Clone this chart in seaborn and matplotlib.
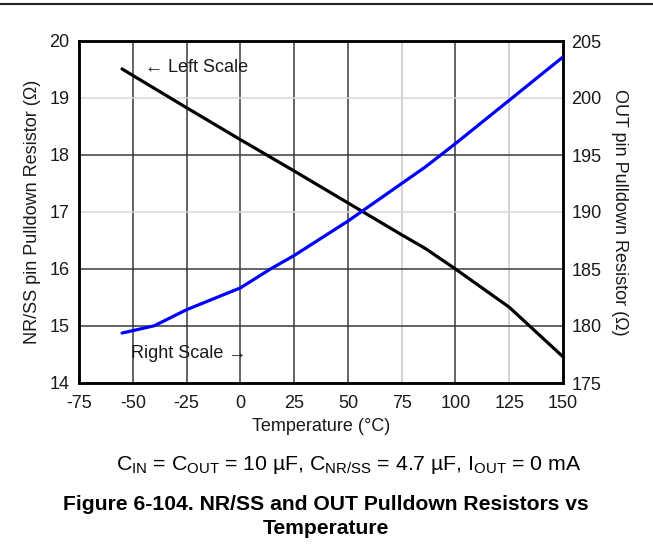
import matplotlib
matplotlib.use("Agg")
import matplotlib.pyplot as plt
from matplotlib.lines import Line2D
import seaborn as sns
import pandas as pd

# Pulldown resistance vs junction temperature
temp_nrss = [-55, -40, -25, 0, 25, 50, 75, 86, 100, 125, 150]
r_nrss = [19.51, 19.17, 18.83, 18.27, 17.72, 17.16, 16.60, 16.36, 16.00, 15.33, 14.46]

temp_out = [-55, -40, -25, 0, 14, 25, 50, 75, 86, 100, 125, 150]
r_out = [179.38, 180.02, 181.43, 183.34, 185.0, 186.18, 189.2, 192.5, 193.95, 196.0, 199.8, 203.6]

x_ticks = [-75, -50, -25, 0, 25, 50, 75, 100, 125, 150]
left_ticks = [14, 15, 16, 17, 18, 19, 20]
right_ticks = [175, 180, 185, 190, 195, 200, 205]

sns.set_style("white")
plt.rcParams["font.family"] = ["Liberation Sans", "DejaVu Sans"]
plt.rcParams["mathtext.default"] = "regular"
plt.rcParams["axes.unicode_minus"] = False

fig = plt.figure(figsize=(6.53, 5.5), dpi=100)
ax = fig.add_axes([79 / 653, 1 - 383 / 550, (563 - 79) / 653, (383 - 41) / 550])
ax2 = ax.twinx()

df_l = pd.DataFrame({"T": temp_nrss, "R": r_nrss})
df_r = pd.DataFrame({"T": temp_out, "R": r_out})
sns.lineplot(data=df_l, x="T", y="R", ax=ax, color="black", lw=2.3, zorder=5)
sns.lineplot(data=df_r, x="T", y="R", ax=ax2, color="#0000ff", lw=2.3, zorder=5)

ax.set_xlim(-75, 150)
ax.set_ylim(14, 20)
ax2.set_ylim(175, 205)
ax.set_xticks(x_ticks)
ax.set_yticks(left_ticks)
ax2.set_yticks(right_ticks)

tick_font = 13
ax.tick_params(axis="x", labelsize=tick_font, length=0, pad=9, colors="#1a1a1a")
ax.tick_params(axis="y", labelsize=tick_font, length=0, pad=7, colors="#1a1a1a")
ax2.tick_params(axis="y", labelsize=tick_font, length=0, pad=6, colors="#1a1a1a")

# Grid lines: most dark, a few lighter
light_x = {75, 125}
light_y = {17, 19}
for xv in x_ticks[1:-1]:
    c = "#c8c8c8" if xv in light_x else "#3a3a3a"
    ax.axvline(xv, color=c, lw=1.1, zorder=1)
for yv in left_ticks[1:-1]:
    c = "#d8d8d8" if yv in light_y else "#3a3a3a"
    ax.axhline(yv, color=c, lw=1.1, zorder=1)

for a in (ax, ax2):
    for s in a.spines.values():
        s.set_color("black")
        s.set_linewidth(1.8)

ax.set_xlabel("Temperature (°C)", fontsize=13, labelpad=4, color="#1a1a1a")
ax.set_ylabel("NR/SS pin Pulldown Resistor (Ω)", fontsize=13, labelpad=6,
              color="#1a1a1a")
ax2.set_ylabel("OUT pin Pulldown Resistor (Ω)", fontsize=13, rotation=270,
               labelpad=19, color="#1a1a1a")

ax.text(-44.5, 19.54, "← Left Scale", fontsize=13, va="center", ha="left",
        color="#1a1a1a", zorder=6)
ax.text(-51, 14.52, "Right Scale →", fontsize=13, va="center", ha="left",
        color="#1a1a1a", zorder=6)

fig.add_artist(Line2D([0, 1], [1 - 3.5 / 550, 1 - 3.5 / 550], color="#222222", lw=1.5))

fig.text(349 / 653, 1 - 465 / 550,
         r"$C_{IN}$ = $C_{OUT}$ = 10 µF, $C_{NR/SS}$ = 4.7 µF, $I_{OUT}$ = 0 mA",
         fontsize=15.3, ha="center", va="center", color="black")
fig.text(326 / 653, 1 - 505 / 550,
         "Figure 6-104. NR/SS and OUT Pulldown Resistors vs",
         fontsize=15.2, fontweight="bold", ha="center", va="center", color="black")
fig.text(326 / 653, 1 - 528 / 550, "Temperature",
         fontsize=15.2, fontweight="bold", ha="center", va="center", color="black")

fig.savefig("out.png", dpi=100, facecolor="white")
